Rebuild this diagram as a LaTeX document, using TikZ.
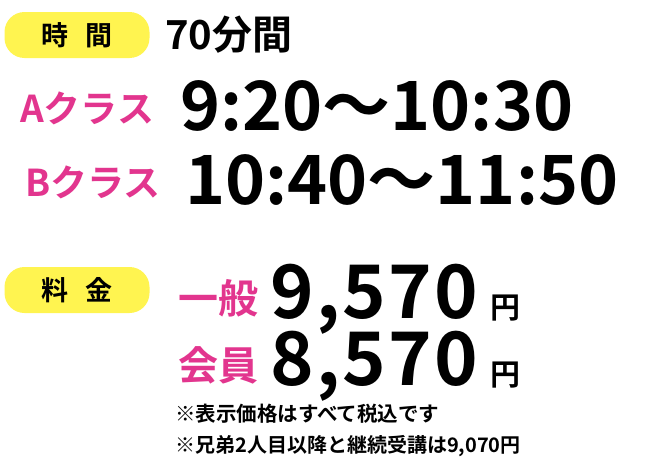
\documentclass[tikz,border=0pt]{standalone}
\usepackage{fontspec}
\newfontfamily\jp{Noto Sans CJK JP}[BoldFont={Noto Sans CJK JP Bold}]
\definecolor{pinkred}{HTML}{E2358E}
\definecolor{marker}{HTML}{FFF450}
\tikzset{
  tag/.style={fill=marker,rounded corners=20pt,minimum width=145pt,minimum height=46pt,inner sep=0pt},
  txt/.style={anchor=base west,inner sep=0pt,font=\jp\bfseries},
  pink/.style={txt,text=pinkred}
}
\begin{document}
\begin{tikzpicture}[x=1pt,y=-1pt]
  \useasboundingbox (0,0) rectangle (672,474);
  % time
  \node [tag,font=\jp\bfseries\fontsize{27}{27}\selectfont] (timetag) at (77,35) {時\hspace{0.6em}間};
  \node [txt,font=\jp\bfseries\fontsize{40}{40}\selectfont] (minutes) at (165,49) {70分間};
  \node [pink,font=\jp\bfseries\fontsize{37}{37}\selectfont] (aclass) at (20,122) {Aクラス};
  \node [txt,font=\jp\bfseries\fontsize{68}{68}\selectfont] (atime) at (180,130) {9:20～10:30};
  \node [pink,font=\jp\bfseries\fontsize{37}{37}\selectfont] (bclass) at (25,196) {Bクラス};
  \node [txt,font=\jp\bfseries\fontsize{68}{68}\selectfont] (btime) at (185,204) {10:40～11:50};
  % fee
  \node [tag,font=\jp\bfseries\fontsize{27}{27}\selectfont] (feetag) at (77,290) {料\hspace{0.6em}金};
  \node [pink,font=\jp\bfseries\fontsize{40}{40}\selectfont] (general) at (178,313) {一般};
  \node [txt,font=\jp\bfseries\fontsize{74}{74}\selectfont\addfontfeature{LetterSpace=3}] (gprice) at (270,318) {9,570};
  \node [txt,font=\jp\bfseries\fontsize{30}{30}\selectfont] (gyen) at (490,318) {円};
  \node [pink,font=\jp\bfseries\fontsize{40}{40}\selectfont] (member) at (178,380) {会員};
  \node [txt,font=\jp\bfseries\fontsize{74}{74}\selectfont\addfontfeature{LetterSpace=3}] (mprice) at (270,385) {8,570};
  \node [txt,font=\jp\bfseries\fontsize{30}{30}\selectfont] (myen) at (490,385) {円};
  % notes
  \node [txt,font=\jp\bfseries\fontsize{20.5}{20.5}\selectfont] (note1) at (175,421) {※表示価格はすべて税込です};
  \node [txt,font=\jp\bfseries\fontsize{20}{20}\selectfont] (note2) at (175,452) {※兄弟2人目以降と継続受講は9,070円};
\end{tikzpicture}
\end{document}
